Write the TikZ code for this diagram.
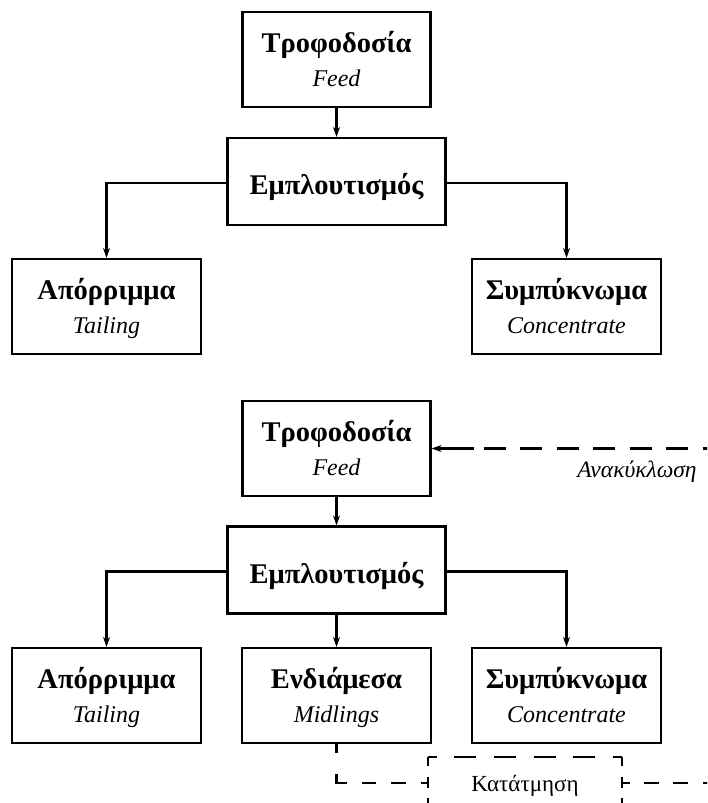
\documentclass[tikz,border=0pt]{standalone}
\usepackage{fontspec}
\setmainfont{Liberation Serif}
\usetikzlibrary{arrows.meta,calc}
\begin{document}
\begin{tikzpicture}[x=1pt,y=-1pt,
  box/.style={draw, line width=2.2pt, minimum width=189pt, minimum height=95pt, inner sep=0pt},
  ebox/.style={draw, line width=2.2pt, minimum width=218pt, minimum height=87pt, inner sep=0pt},
  ttl/.style={font=\fontsize{28.5}{28.5}\selectfont\bfseries, anchor=base, inner sep=0pt},
  sub/.style={font=\fontsize{24}{24}\selectfont\itshape, anchor=base, inner sep=0pt},
  tip/.style={-{Stealth[length=10pt,width=7pt]}},
  conn/.style={line width=2.2pt, tip},
  dline/.style={line width=2.2pt},
  kbox/.style={minimum width=194pt, minimum height=52pt, inner sep=0pt, text height=16pt, text depth=0pt, font=\fontsize{23}{23}\selectfont}
]
\useasboundingbox (0,0) rectangle (707,803);
\clip (0,0) rectangle (707,803);
% ---------- top diagram ----------
\node[box, minimum width=188pt] (feedA) at (336.5,59.5) {};
\node[ttl] (feedAt) at (336.5,52) {Τροφοδοσία};
\node[sub] (feedAs) at (336.5,86) {Feed};
\node[ebox] (empA) at (336.5,181.5) {};
\node[ttl] (empAt) at (336.5,194) {Εμπλουτισμός};
\node[box] (tailA) at (106.5,306.5) {};
\node[ttl] (tailAt) at (106.5,299) {Απόρριμμα};
\node[sub] (tailAs) at (106.5,333) {Tailing};
\node[box] (concA) at (566.5,306.5) {};
\node[ttl] (concAt) at (566.5,299) {Συμπύκνωμα};
\node[sub] (concAs) at (566.5,333) {Concentrate};
\draw[conn] (feedA.south) -- (empA.north);
\draw[conn] ([yshift=-1.5pt]empA.west) -| (tailA.north);
\draw[conn] ([yshift=-1.5pt]empA.east) -| (concA.north);
% ---------- bottom diagram ----------
\node[box, minimum width=188pt] (feedB) at (336.5,448.5) {};
\node[ttl] (feedBt) at (336.5,441) {Τροφοδοσία};
\node[sub] (feedBs) at (336.5,475) {Feed};
\node[ebox] (empB) at (336.5,570) {};
\node[ttl] (empBt) at (336.5,583) {Εμπλουτισμός};
\node[box] (tailB) at (106.5,695.5) {};
\node[ttl] (tailBt) at (106.5,688) {Απόρριμμα};
\node[sub] (tailBs) at (106.5,722) {Tailing};
\node[box] (midB) at (336.5,695.5) {};
\node[ttl] (midBt) at (336.5,688) {Ενδιάμεσα};
\node[sub] (midBs) at (336.5,722) {Midlings};
\node[box] (concB) at (566.5,695.5) {};
\node[ttl] (concBt) at (566.5,688) {Συμπύκνωμα};
\node[sub] (concBs) at (566.5,722) {Concentrate};
\draw[conn] (feedB.south) -- (empB.north);
\draw[conn] ([yshift=-1.5pt]empB.west) -| (tailB.north);
\draw[conn] (empB.south) -- (midB.north);
\draw[conn] ([yshift=-1.5pt]empB.east) -| (concB.north);
% recycle
\coordinate (rcy) at (712,448.5);
\draw[dline, {Stealth[length=10pt,width=7pt]}-,
  dash pattern=on 36pt off 10pt on 22pt off 14.5pt on 22pt off 14.5pt on 22pt off 14.5pt on 22pt off 14.5pt on 22pt off 14.5pt on 22pt off 14.5pt on 22pt off 14.5pt on 30pt]
  (feedB.east) -- (rcy);
\node[font=\fontsize{23.5}{23.5}\selectfont\itshape, anchor=base, inner sep=0pt] (rcyl) at (637,477) {Ανακύκλωση};
% comminution
\node[kbox] (katB) at (525,783) {Κατάτμηση};
\draw[dline, dash pattern=on 9pt off 17.6pt on 22pt off 17.6pt on 22pt off 17.6pt on 22pt off 17.6pt on 22pt off 17.6pt on 9pt]
  (katB.north west) -- (katB.north east);
\draw[dline, dash pattern=on 9pt off 11pt on 11pt off 10pt on 20pt off 10pt]
  (katB.north west) -- (katB.south west);
\draw[dline, dash pattern=on 9pt off 11pt on 11pt off 10pt on 20pt off 10pt]
  (katB.north east) -- (katB.south east);
\draw[dline, dash pattern=on 9pt off 21pt on 19pt off 15pt on 14pt off 15pt on 15pt off 15pt on 8pt]
  (midB.south) |- (katB.west);
\coordinate (kend) at (712,783);
\draw[dline, dash pattern=on 8pt off 14pt on 15pt off 14pt on 15pt off 15pt on 15pt off 15pt]
  (katB.east) -- (kend);
\end{tikzpicture}
\end{document}
